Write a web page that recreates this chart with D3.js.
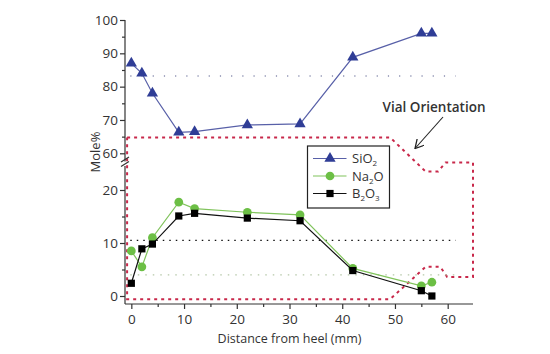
<!DOCTYPE html>
<html>
<head>
<meta charset="utf-8">
<script src="https://cdn.jsdelivr.net/npm/d3@7"></script>
<style>
  body { margin: 0; background: #fff; }
  text { font-family: "Open Sans", sans-serif; fill: #333; }
</style>
</head>
<body>
<svg id="chart" width="550" height="354"></svg>
<script>
// distances along the vial (mm)
const distance = [0, 2, 4, 9, 12, 22, 32, 42, 55, 57]
const sio2 = [87, 84, 78, 66.3, 66.5, 68.5, 68.8, 88.8, 96, 96]
const na2o = [8.5, 5.5, 11, 17.7, 16.5, 15.8, 15.3, 5.2, 1.9, 2.6]
const b2o3 = [2.4, 8.9, 9.8, 15.1, 15.6, 14.7, 14.2, 4.8, 1.0, 0]
// average composition lines
const refSiO2 = 83.2
const refB2O3 = 10.5
const refNa2O = 4

const xTicks = [0, 10, 20, 30, 40, 50, 60]
const yTopTicks = [60, 70, 80, 90, 100]
const yBotTicks = [0, 10, 20]

// vial outline in mm / lower-axis units
const vialX = [-0.8, 49.1, 55.8, 58.2, 59.6, 64.8, 64.8, 59.9, 58.6, 55.8, 49.1, -0.8, -0.8]
const vialY = [29.9, 29.9, 23.5, 23.5, 25.2, 25.2, 3.6, 3.6, 5.5, 5.5, -0.6, -0.6, 29.9]

const svg = d3.select('#chart')

var x = d3.scaleLinear().domain([-1.2, 64.8]).range([125, 473])
var yTop = d3.scaleLinear().domain([60, 100]).range([153.3, 20])
var yBot = d3.scaleLinear().domain([0, 20]).range([296, 190])

const axisColor = '#333'

//vial outline first so it sits behind
svg.append('path')
    .datum(vialX.map((d, i) => [d, vialY[i]]))
    .attr('d', d3.line().x(d => x(d[0])).y(d => yBot(d[1])))
    .attr('fill', 'none')
    .attr('stroke', '#c8284a')
    .attr('stroke-width', 2)
    .attr('stroke-dasharray', '3,4')

//reference dotted lines
const refLines = [
    {y: yTop(refSiO2), color: '#8a8fb0', dash: '1.2,10'},
    {y: yBot(refB2O3), color: '#111', dash: '1.5,5'},
    {y: yBot(refNa2O), color: '#b5c7a8', dash: '1.5,6'}
]
svg.selectAll('.ref')
    .data(refLines)
    .enter()
    .append('line')
    .attr('x1', x(-0.2)).attr('x2', x(61.5))
    .attr('y1', d => d.y).attr('y2', d => d.y)
    .attr('stroke', d => d.color)
    .attr('stroke-width', 1.3)
    .attr('stroke-dasharray', d => d.dash)

//x axis
var xAxis = svg.append('g').attr('transform', 'translate(0,304)')
xAxis.call(d3.axisBottom(x).tickValues(xTicks).tickSize(5).tickFormat(d3.format('d')))
xAxis.append('g').call(d3.axisBottom(x).tickValues([5, 15, 25, 35, 45, 55]).tickSize(3).tickFormat(''))
xAxis.selectAll('.domain').remove()
xAxis.append('line').attr('x1', 125).attr('x2', 473).attr('stroke', axisColor).attr('stroke-width', 1.2)

//y axes (upper and lower segment)
var yTopAxis = svg.append('g').attr('transform', 'translate(125,0)')
yTopAxis.call(d3.axisLeft(yTop).tickValues(yTopTicks).tickSize(5))
yTopAxis.append('g').call(d3.axisLeft(yTop).tickValues([65, 75, 85, 95]).tickSize(3).tickFormat(''))
var yBotAxis = svg.append('g').attr('transform', 'translate(125,0)')
yBotAxis.call(d3.axisLeft(yBot).tickValues(yBotTicks).tickSize(5))
yBotAxis.append('g').call(d3.axisLeft(yBot).tickValues([5, 15]).tickSize(3).tickFormat(''))
svg.selectAll('.domain').remove()
yTopAxis.append('line').attr('y1', 20).attr('y2', 161.5).attr('stroke', axisColor).attr('stroke-width', 1.2)
yBotAxis.append('line').attr('y1', 166).attr('y2', 304).attr('stroke', axisColor).attr('stroke-width', 1.2)
//break marks
svg.selectAll('.brk')
    .data([159.5, 164])
    .enter()
    .append('line')
    .attr('x1', 121).attr('x2', 129)
    .attr('y1', d => d + 2.5).attr('y2', d => d - 2.5)
    .attr('stroke', axisColor).attr('stroke-width', 1.2)

svg.selectAll('.tick line').attr('stroke', axisColor).attr('stroke-width', 1.2)
svg.selectAll('.tick text').attr('font-size', 13.5).attr('fill', '#333')
    .style('font-family', '"Open Sans", sans-serif')
xAxis.selectAll('.tick text').attr('dy', '0.9em')
yTopAxis.selectAll('.tick text').attr('x', -7)
yBotAxis.selectAll('.tick text').attr('x', -7)

//axis titles
svg.append('text')
    .attr('x', x(30)).attr('y', 343)
    .attr('text-anchor', 'middle')
    .attr('font-size', 12.5)
    .text('Distance from heel (mm)')
svg.append('text')
    .attr('transform', 'translate(100,152) rotate(-90)')
    .attr('text-anchor', 'middle')
    .attr('font-size', 13)
    .text('Mole%')

//series
const series = [
    {name: 'SiO2', values: sio2, y: yTop, line: '#5860a8', fill: '#2f3d96', shape: d3.symbolTriangle, size: 55},
    {name: 'Na2O', values: na2o, y: yBot, line: '#80c35c', fill: '#6cbf45', shape: d3.symbolCircle, size: 60},
    {name: 'B2O3', values: b2o3, y: yBot, line: '#111', fill: '#000', shape: d3.symbolSquare, size: 52}
]

series.forEach(s => {
    svg.append('path')
        .datum(distance.map((d, i) => [d, s.values[i]]))
        .attr('d', d3.line().x(d => x(d[0])).y(d => s.y(d[1])))
        .attr('fill', 'none')
        .attr('stroke', s.line)
        .attr('stroke-width', 1.2)
    svg.selectAll('.m' + s.name)
        .data(distance.map((d, i) => [d, s.values[i]]))
        .enter()
        .append('path')
        .attr('d', d3.symbol().type(s.shape).size(s.size))
        .attr('transform', d => `translate(${x(d[0])},${s.y(d[1])})`)
        .attr('fill', s.fill)
})

//legend
var legend = svg.append('g')
legend.append('rect')
    .attr('x', 307.5).attr('y', 146).attr('width', 82).attr('height', 62)
    .attr('fill', '#fff').attr('stroke', '#222').attr('stroke-width', 1.2)
const legendLabels = [['SiO', '2', ''], ['Na', '2', 'O'], ['B', '2', 'O', '3']]
series.forEach((s, i) => {
    const ly = 158.5 + i * 17.5
    legend.append('line').attr('x1', 313).attr('x2', 346.5).attr('y1', ly).attr('y2', ly)
        .attr('stroke', s.line).attr('stroke-width', 1.2)
    legend.append('path')
        .attr('d', d3.symbol().type(s.shape).size(s.size))
        .attr('transform', `translate(330,${ly})`)
        .attr('fill', s.fill)
    const t = legend.append('text').attr('x', 352).attr('y', ly + 4.5).attr('font-size', 13)
    const parts = legendLabels[i]
    parts.forEach((p, j) => {
        if (p === '') return
        const sub = j % 2 === 1
        t.append('tspan')
            .attr('font-size', sub ? 8 : 13)
            .attr('dy', sub ? 3 : (j > 0 ? -3 : 0))
            .text(p)
    })
})

//vial orientation annotation
svg.append('defs').append('marker')
    .attr('id', 'arr').attr('viewBox', '0 0 10 10')
    .attr('refX', 9).attr('refY', 5)
    .attr('markerWidth', 9).attr('markerHeight', 9)
    .attr('orient', 'auto')
    .append('path').attr('d', 'M0,0 L9,5 L0,10')
    .attr('fill', 'none').attr('stroke', '#222').attr('stroke-width', 1.3)
svg.append('line')
    .attr('x1', 443).attr('y1', 117).attr('x2', 415).attr('y2', 148.5)
    .attr('stroke', '#222').attr('stroke-width', 1.1)
    .attr('marker-end', 'url(#arr)')
svg.append('text')
    .attr('x', 434).attr('y', 111.5)
    .attr('text-anchor', 'middle')
    .attr('font-size', 13.5)
    .attr('font-weight', 600)
    .attr('fill', '#333')
    .text('Vial Orientation')
</script>
</body>
</html>
